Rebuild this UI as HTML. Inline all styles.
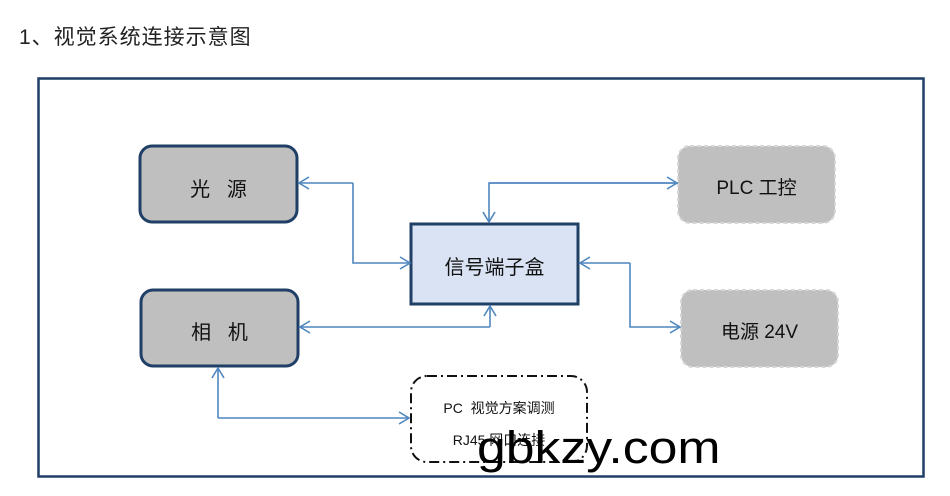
<!DOCTYPE html>
<html><head><meta charset="utf-8"><style>
body{margin:0;background:#fff;width:950px;height:496px;overflow:hidden;position:relative;font-family:"Liberation Sans","Noto Sans CJK SC",sans-serif}
.t{position:absolute;white-space:nowrap}
</style></head><body>
<div class="t" style="left:19px;top:21px;font-size:21px;letter-spacing:1px;color:#222">1、视觉系统连接示意图</div>
<svg width="950" height="496" style="position:absolute;left:0;top:0">
<defs><marker id="a" markerWidth="14" markerHeight="14" refX="11" refY="7" orient="auto" markerUnits="userSpaceOnUse"><path d="M1,1 L11,7 L1,13" fill="none" stroke="#4f86c0" stroke-width="1.6"/></marker></defs>
<rect x="38.5" y="78.5" width="885" height="398" fill="#fff" stroke="#1f3f66" stroke-width="2.5"/>
<rect x="140" y="146" width="157" height="76" rx="12" fill="#bfbfbf" stroke="#1f3f66" stroke-width="3"/>
<rect x="141" y="290" width="157" height="76" rx="12" fill="#bfbfbf" stroke="#1f3f66" stroke-width="3"/>
<rect x="411" y="224" width="167" height="80" fill="#d9e3f3" stroke="#1f3f66" stroke-width="3"/>
<rect x="678" y="146" width="157" height="77" rx="12" fill="#bfbfbf" stroke="#d6d6d6" stroke-width="2" stroke-dasharray="4 3"/>
<rect x="681" y="290" width="157" height="77" rx="12" fill="#bfbfbf" stroke="#d6d6d6" stroke-width="2" stroke-dasharray="4 3"/>
<rect x="411" y="376" width="176" height="86" rx="16" fill="#fff" stroke="#111" stroke-width="2" stroke-dasharray="10 4 2 4"/>
<g fill="none" stroke="#4f86c0" stroke-width="1.6">
<polyline points="353,183 299,183" marker-end="url(#a)"/>
<polyline points="353,183 353,263 410,263" marker-end="url(#a)"/>
<polyline points="678,183 489,183 489,222" marker-end="url(#a)"/>
<polyline points="489,183 677,183" marker-end="url(#a)"/>
<polyline points="630,263 580,263" marker-end="url(#a)"/>
<polyline points="630,263 630,327 680,327" marker-end="url(#a)"/>
<polyline points="490,327 300,327" marker-end="url(#a)"/>
<polyline points="490,327 490,306" marker-end="url(#a)"/>
<polyline points="218,418 218,368" marker-end="url(#a)"/>
<polyline points="218,418 409,418" marker-end="url(#a)"/>
</g>
</svg>
<div class="t" style="left:140px;width:157px;top:173px;text-align:center;font-size:20px;color:#111">光&nbsp;&nbsp;&nbsp;源</div>
<div class="t" style="left:141px;width:157px;top:316px;text-align:center;font-size:20px;color:#111">相&nbsp;&nbsp;&nbsp;机</div>
<div class="t" style="left:411px;width:167px;top:251px;text-align:center;font-size:20px;color:#111">信号端子盒</div>
<div class="t" style="left:678px;width:157px;top:173px;text-align:center;font-size:19px;color:#111">PLC 工控</div>
<div class="t" style="left:681px;width:157px;top:317px;text-align:center;font-size:19px;color:#111">电源 24V</div>
<div class="t" style="left:411px;width:176px;top:398px;text-align:center;font-size:14px;color:#111">PC&nbsp; 视觉方案调测</div>
<div class="t" style="left:411px;width:176px;top:430px;text-align:center;font-size:14px;color:#111">RJ45 网口连接</div>
<div class="t" style="left:477px;top:424px;font-size:45px;color:#000;line-height:48px;transform:scaleX(1.15);transform-origin:0 0">gbkzy.com</div>
</body></html>
